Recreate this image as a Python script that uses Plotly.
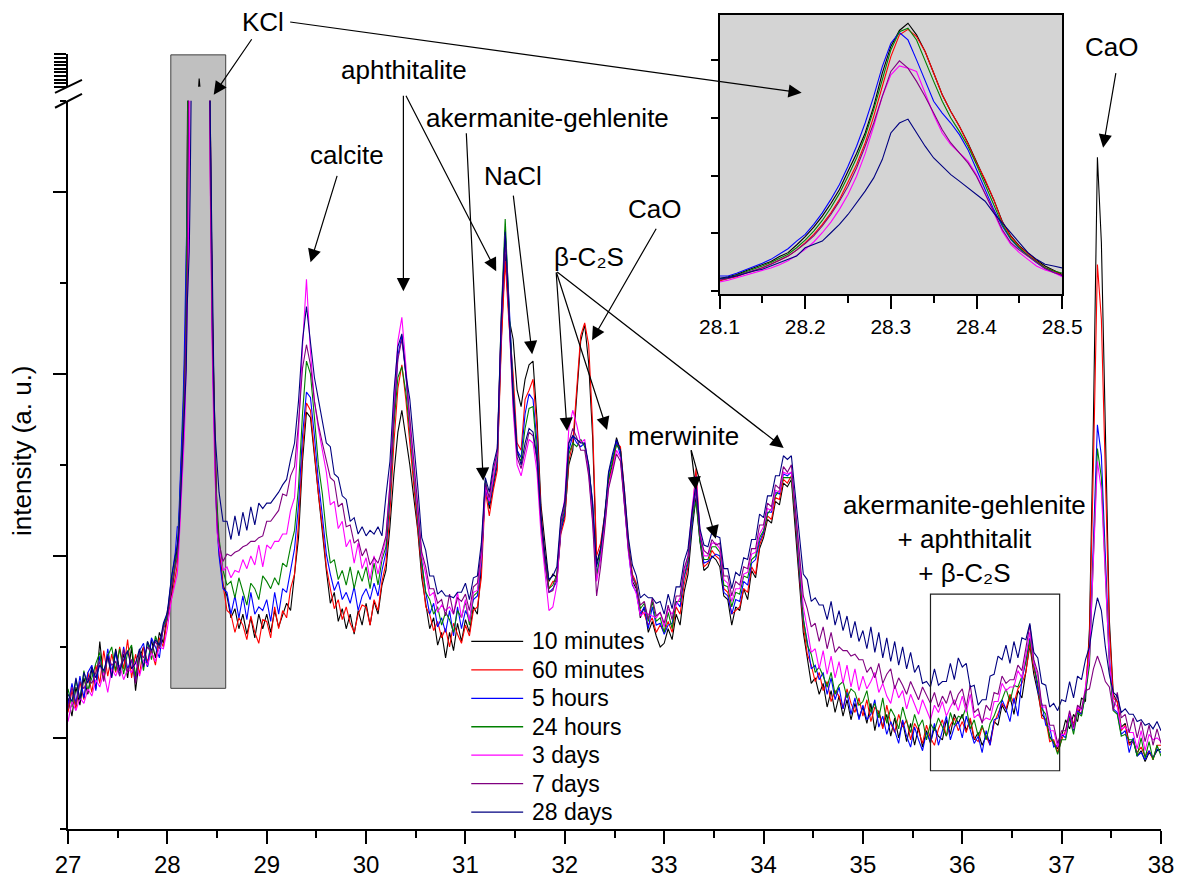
import numpy as np
import plotly.graph_objects as go

# ---------------------------------------------------------------------------
# 2-theta scan grids (degrees): coarse scan, fine window around the KCl reflex
# ---------------------------------------------------------------------------
two_theta_low = np.round(27.00 + 0.04 * np.arange(28), 2)    # 27.00 ... 28.08
two_theta_kcl = np.round(28.10 + 0.01 * np.arange(41), 2)    # 28.10 ... 28.50
two_theta_high = np.round(28.52 + 0.04 * np.arange(238), 2)  # 28.52 ... 38.00

series_names = ["10 minutes", "60 minutes", "5 hours", "24 hours", "3 days", "7 days", "28 days"]
series_colors = ["#000000", "#ff0000", "#0000ff", "#008000", "#ff00ff", "#800080", "#000080"]

# ---------------------------------------------------------------------------
# intensities (a. u.), 27.00 - 28.08
# ---------------------------------------------------------------------------
low_10min = [122, 112, 128, 118, 133, 124, 138, 127, 153, 132, 146, 134, 149, 137, 146, 133, 150, 126, 144, 150, 139, 154, 144, 158, 152, 170, 178, 196]
low_60min = [114, 126, 116, 131, 121, 136, 125, 140, 130, 148, 134, 146, 136, 150, 138, 154, 133, 146, 135, 150, 142, 148, 140, 155, 150, 166, 176, 190]
low_5h = [118, 130, 119, 134, 122, 136, 140, 126, 145, 133, 149, 136, 147, 134, 150, 138, 143, 132, 148, 152, 139, 155, 150, 144, 162, 168, 187, 202]
low_24h = [127, 117, 132, 121, 137, 126, 133, 141, 147, 133, 145, 150, 137, 149, 135, 147, 151, 134, 148, 137, 153, 143, 156, 150, 161, 167, 184, 195]
low_3d = [109, 120, 115, 122, 119, 127, 123, 132, 128, 136, 125, 138, 134, 140, 132, 138, 136, 142, 134, 143, 140, 147, 142, 150, 149, 160, 176, 186]
low_7d = [116, 128, 118, 131, 127, 133, 130, 136, 142, 131, 145, 140, 142, 134, 149, 136, 143, 130, 147, 144, 150, 147, 153, 149, 160, 165, 182, 194]
low_28d = [124, 120, 133, 121, 136, 130, 139, 133, 140, 137, 145, 133, 148, 137, 143, 148, 138, 141, 149, 139, 153, 148, 154, 151, 163, 169, 188, 200]

# ---------------------------------------------------------------------------
# intensities (a. u.), KCl reflex 28.10 - 28.50
# ---------------------------------------------------------------------------
kcl_10min = [205, 213, 222, 238, 251, 264, 279, 300, 317, 350, 386, 427, 475, 529, 590, 669, 745, 834, 949, 1093,
             1208, 1277, 1308, 1258, 1186, 1093, 999, 927, 863, 791, 712, 633, 547, 453, 389, 346, 314, 285, 259, 242, 223]
kcl_60min = [195, 205, 213, 228, 238, 252, 267, 284, 302, 328, 360, 396, 439, 489, 547, 619, 698, 791, 906, 1035,
             1164, 1258, 1282, 1251, 1186, 1093, 999, 927, 863, 788, 705, 633, 547, 449, 386, 343, 310, 281, 252, 238, 219]
kcl_5h = [216, 216, 228, 242, 255, 271, 288, 310, 334, 367, 396, 439, 489, 547, 611, 690, 777, 877, 992, 1121,
          1222, 1268, 1236, 1150, 1057, 971, 920, 877, 827, 762, 676, 590, 504, 432, 374, 334, 302, 274, 248, 231, 216]
kcl_24h = [202, 209, 219, 233, 245, 259, 274, 291, 310, 338, 371, 410, 456, 511, 573, 647, 726, 820, 935, 1064,
           1193, 1272, 1287, 1236, 1143, 1057, 971, 899, 841, 777, 698, 611, 525, 439, 377, 338, 305, 277, 252, 238, 228]
kcl_3d = [190, 198, 208, 219, 228, 238, 251, 265, 282, 305, 331, 363, 403, 449, 504, 568, 647, 745, 863, 992,
          1085, 1124, 1114, 1100, 1006, 913, 834, 784, 748, 712, 654, 575, 489, 410, 353, 317, 288, 259, 242, 231, 213]
kcl_7d = [199, 205, 216, 228, 238, 252, 267, 284, 302, 328, 356, 389, 432, 482, 539, 604, 683, 777, 877, 992,
          1100, 1146, 1114, 1057, 992, 920, 848, 791, 748, 705, 647, 575, 496, 417, 360, 328, 300, 274, 248, 231, 219]
kcl_28d = [205, 209, 216, 228, 238, 245, 259, 274, 285, 302, 338, 353, 367, 403, 439, 482, 532, 583, 640, 719,
           834, 877, 894, 834, 777, 726, 690, 654, 626, 597, 568, 539, 489, 446, 403, 360, 317, 288, 267, 259, 252]

# ---------------------------------------------------------------------------
# intensities (a. u.), 28.52 - 38.00 (one row per degree)
# ---------------------------------------------------------------------------
high_10min = [
    205, 184, 178, 166, 171, 160, 168, 157, 166, 155, 168, 160,
    168, 158, 170, 161, 167, 174, 170, 190, 210, 252, 279, 276, 254, 232, 214, 192, 174, 180, 164, 171, 160, 168, 157, 170, 162,
    174, 162, 175, 168, 184, 192, 216, 245, 268, 280, 266, 250, 232, 214, 188, 174, 160, 166, 151, 158, 144, 158, 148, 163, 153,
    165, 158, 172, 168, 194, 240, 226, 238, 250, 318, 366, 330, 319, 291, 282, 297, 305, 307, 275, 228, 205, 186, 190, 188, 214,
    222, 250, 258, 288, 318, 327, 306, 265, 196, 204, 220, 242, 250, 265, 258, 232, 205, 186, 182, 166, 172, 158, 164, 156, 150,
    152, 160, 154, 168, 162, 180, 190, 214, 232, 208, 192, 194, 200, 198, 194, 178, 176, 162, 172, 170, 182, 176, 192, 188, 204,
    210, 220, 218, 230, 228, 240, 238, 242, 216, 186, 158, 143, 130, 133, 124, 130, 117, 126, 114, 123, 112, 121, 110, 119, 111,
    117, 108, 119, 104, 115, 106, 113, 101, 111, 100, 109, 98, 108, 96, 106, 95, 104, 97, 106, 101, 99, 110, 102, 113, 108,
    113, 104, 110, 99, 103, 96, 101, 98, 109, 107, 118, 114, 123, 113, 126, 122, 137, 151, 135, 125, 113, 110, 101, 97, 94,
    101, 110, 105, 113, 109, 122, 120, 160, 275, 419, 372, 270, 165, 124, 120, 106, 108, 97, 99, 90, 93, 87, 92, 89, 93,
    94]
high_60min = [
    202, 184, 170, 168, 158, 166, 162, 154, 167, 158, 152, 165,
    164, 155, 172, 160, 170, 166, 182, 190, 218, 258, 284, 280, 257, 234, 216, 194, 182, 171, 176, 165, 172, 163, 158, 168, 173,
    172, 162, 176, 170, 186, 196, 224, 262, 292, 305, 286, 262, 238, 216, 192, 172, 168, 159, 164, 155, 160, 150, 163, 157, 152,
    162, 156, 170, 172, 188, 236, 222, 236, 247, 315, 362, 326, 300, 262, 258, 286, 291, 297, 270, 224, 200, 182, 186, 186, 212,
    220, 252, 262, 292, 321, 328, 316, 272, 200, 207, 222, 241, 248, 262, 260, 236, 208, 190, 185, 170, 168, 162, 166, 158, 162,
    158, 164, 158, 172, 168, 184, 194, 222, 248, 212, 194, 196, 203, 200, 198, 182, 180, 168, 170, 172, 182, 180, 194, 190, 206,
    212, 222, 220, 232, 231, 242, 240, 244, 220, 190, 162, 146, 140, 131, 136, 126, 131, 120, 126, 123, 116, 127, 119, 114, 122,
    112, 121, 109, 117, 114, 105, 118, 108, 103, 113, 106, 110, 99, 108, 104, 97, 107, 100, 96, 105, 110, 101, 107, 111, 104,
    109, 103, 111, 100, 98, 106, 101, 96, 108, 113, 119, 116, 124, 119, 127, 130, 136, 152, 138, 128, 111, 110, 98, 99, 92,
    99, 104, 112, 108, 116, 113, 126, 155, 250, 360, 330, 245, 160, 122, 120, 104, 107, 96, 98, 92, 95, 90, 93, 88, 96,
    96]
high_5h = [
    200, 182, 180, 168, 178, 166, 178, 165, 180, 168, 172, 170,
    176, 164, 180, 168, 182, 180, 192, 204, 228, 266, 290, 287, 266, 241, 222, 201, 190, 181, 186, 176, 180, 174, 183, 170, 178,
    182, 176, 185, 178, 192, 202, 232, 275, 310, 321, 300, 270, 243, 220, 196, 180, 168, 174, 161, 166, 158, 170, 156, 172, 160,
    170, 165, 176, 178, 196, 238, 228, 240, 252, 325, 379, 338, 292, 258, 254, 278, 289, 286, 262, 220, 196, 180, 182, 186, 214,
    224, 258, 266, 262, 260, 262, 248, 230, 190, 200, 218, 245, 254, 263, 255, 229, 203, 184, 180, 168, 172, 160, 172, 162, 163,
    157, 162, 163, 175, 172, 188, 196, 218, 238, 210, 196, 197, 199, 201, 200, 180, 178, 168, 176, 175, 186, 184, 196, 198, 208,
    213, 224, 224, 235, 234, 245, 244, 246, 222, 192, 165, 153, 138, 140, 132, 136, 124, 133, 121, 128, 116, 125, 113, 122, 110,
    118, 110, 113, 121, 106, 112, 102, 109, 104, 97, 110, 101, 95, 106, 99, 93, 103, 98, 108, 96, 104, 112, 99, 106, 109,
    100, 112, 104, 97, 101, 92, 104, 96, 110, 111, 121, 116, 109, 122, 112, 132, 142, 155, 142, 126, 119, 107, 106, 95, 96,
    102, 100, 112, 104, 115, 113, 124, 145, 210, 272, 255, 200, 145, 116, 114, 102, 104, 92, 100, 90, 92, 88, 93, 89, 94,
    92]
high_24h = [
    210, 192, 184, 186, 177, 188, 180, 173, 185, 182, 176, 189,
    186, 182, 188, 184, 196, 194, 205, 214, 238, 278, 307, 300, 276, 250, 234, 212, 196, 198, 187, 192, 184, 194, 182, 192, 186,
    194, 182, 196, 184, 198, 205, 234, 272, 298, 304, 290, 268, 245, 222, 197, 180, 176, 168, 172, 162, 169, 165, 158, 170, 166,
    175, 162, 178, 180, 198, 242, 229, 242, 254, 332, 385, 335, 290, 256, 252, 270, 281, 282, 256, 218, 198, 182, 184, 190, 216,
    226, 256, 262, 260, 264, 260, 250, 226, 188, 202, 221, 242, 252, 261, 258, 232, 206, 188, 184, 171, 174, 164, 175, 164, 166,
    158, 169, 160, 175, 175, 189, 198, 220, 230, 208, 198, 198, 205, 205, 202, 184, 183, 172, 180, 179, 189, 188, 198, 200, 210,
    214, 223, 226, 233, 236, 243, 243, 243, 223, 194, 166, 151, 146, 136, 139, 134, 128, 136, 124, 129, 131, 122, 127, 125, 118,
    120, 126, 114, 119, 111, 122, 108, 116, 112, 105, 117, 109, 103, 113, 106, 110, 99, 108, 104, 111, 106, 101, 114, 107, 112,
    111, 117, 105, 110, 101, 107, 99, 108, 112, 118, 121, 127, 120, 129, 128, 134, 142, 154, 140, 130, 116, 113, 100, 98, 91,
    99, 99, 111, 102, 114, 112, 124, 140, 200, 259, 243, 190, 140, 115, 113, 101, 102, 99, 99, 90, 100, 89, 98, 88, 96,
    90]
high_3d = [
    205, 192, 194, 188, 192, 191, 198, 193, 200, 195, 206, 194,
    206, 204, 208, 208, 212, 212, 225, 232, 268, 315, 352, 312, 285, 270, 258, 246, 228, 230, 215, 219, 205, 209, 196, 207, 193,
    199, 187, 200, 190, 200, 210, 240, 285, 318, 331, 305, 272, 248, 226, 200, 190, 178, 180, 169, 173, 170, 172, 168, 180, 166,
    176, 164, 180, 181, 199, 238, 230, 243, 256, 328, 376, 330, 280, 250, 244, 254, 264, 262, 246, 212, 190, 170, 172, 184, 218,
    232, 270, 280, 272, 262, 264, 246, 220, 186, 198, 216, 238, 248, 258, 254, 230, 202, 185, 179, 167, 169, 168, 167, 166, 169,
    161, 171, 168, 173, 177, 191, 200, 226, 244, 214, 200, 200, 207, 207, 204, 187, 185, 175, 182, 182, 190, 191, 201, 202, 212,
    216, 226, 225, 236, 235, 246, 245, 246, 226, 198, 172, 160, 147, 149, 138, 148, 135, 145, 133, 142, 130, 140, 128, 138, 126,
    134, 127, 131, 136, 125, 130, 123, 119, 129, 122, 126, 116, 124, 119, 113, 121, 116, 110, 118, 114, 120, 112, 117, 121, 115,
    123, 114, 124, 111, 113, 109, 111, 110, 120, 120, 130, 126, 128, 128, 137, 133, 146, 158, 141, 134, 117, 117, 104, 104, 95,
    102, 102, 114, 105, 117, 115, 128, 144, 200, 252, 236, 188, 142, 120, 117, 105, 106, 103, 103, 94, 104, 93, 102, 99, 100,
    98]
high_7d = [
    207, 197, 201, 200, 202, 203, 205, 206, 208, 208, 210, 211,
    219, 219, 222, 225, 234, 233, 244, 249, 273, 303, 316, 305, 285, 272, 262, 252, 243, 241, 227, 229, 216, 217, 207, 209, 200,
    204, 195, 199, 196, 203, 211, 239, 278, 308, 319, 300, 278, 252, 228, 202, 194, 182, 182, 174, 176, 167, 179, 168, 177, 175,
    179, 170, 183, 185, 203, 240, 232, 247, 257, 326, 374, 328, 284, 254, 248, 258, 268, 266, 252, 218, 196, 180, 181, 189, 218,
    228, 262, 270, 265, 258, 258, 244, 218, 178, 194, 214, 237, 246, 256, 252, 228, 204, 189, 183, 173, 175, 165, 177, 167, 169,
    163, 173, 165, 178, 178, 193, 200, 222, 236, 211, 203, 201, 209, 206, 207, 189, 189, 178, 186, 184, 194, 193, 204, 204, 217,
    217, 229, 227, 239, 237, 249, 246, 250, 227, 202, 178, 171, 161, 163, 153, 161, 149, 158, 147, 150, 148, 148, 145, 146, 143,
    143, 136, 139, 133, 141, 130, 135, 138, 127, 133, 129, 124, 131, 126, 121, 128, 123, 119, 125, 117, 123, 119, 126, 118, 124,
    127, 117, 129, 114, 116, 108, 118, 115, 125, 124, 134, 130, 132, 132, 140, 137, 149, 162, 143, 136, 118, 118, 107, 107, 97,
    104, 104, 115, 106, 118, 116, 126, 127, 138, 145, 139, 131, 128, 115, 125, 111, 113, 103, 111, 100, 109, 98, 107, 96, 105,
    97]
high_28d = [
    235, 219, 219, 209, 222, 211, 224, 214, 227, 217, 229, 226,
    229, 229, 232, 235, 239, 242, 253, 262, 285, 318, 337, 318, 298, 286, 273, 262, 260, 245, 243, 233, 231, 219, 221, 212, 216,
    211, 214, 212, 216, 211, 233, 252, 290, 315, 322, 300, 286, 264, 238, 210, 203, 189, 189, 179, 181, 178, 178, 177, 180, 180,
    185, 176, 188, 189, 207, 243, 235, 250, 259, 330, 378, 332, 288, 258, 250, 262, 270, 268, 254, 222, 201, 187, 189, 194, 221,
    230, 262, 266, 264, 262, 262, 250, 228, 194, 204, 222, 246, 256, 264, 258, 236, 210, 195, 189, 177, 179, 177, 177, 174, 175,
    168, 179, 171, 183, 183, 197, 204, 224, 240, 215, 206, 205, 213, 211, 210, 193, 193, 182, 191, 189, 199, 198, 209, 209, 223,
    221, 233, 233, 244, 244, 255, 253, 255, 233, 210, 190, 187, 175, 177, 173, 173, 165, 175, 162, 170, 159, 167, 155, 164, 153,
    159, 149, 161, 147, 158, 144, 155, 142, 153, 140, 150, 138, 147, 136, 140, 130, 131, 128, 138, 129, 131, 131, 141, 132, 144,
    139, 141, 128, 129, 118, 121, 121, 134, 135, 145, 143, 151, 141, 153, 144, 155, 154, 163, 147, 144, 130, 129, 117, 119, 115,
    121, 120, 131, 122, 134, 132, 143, 150, 165, 177, 170, 150, 135, 125, 123, 114, 116, 113, 113, 109, 110, 107, 108, 105, 109,
    104]

series_low = [low_10min, low_60min, low_5h, low_24h, low_3d, low_7d, low_28d]
series_kcl = [kcl_10min, kcl_60min, kcl_5h, kcl_24h, kcl_3d, kcl_7d, kcl_28d]
series_high = [high_10min, high_60min, high_5h, high_24h, high_3d, high_7d, high_28d]

for lo, kc, hi in zip(series_low, series_kcl, series_high):
    assert len(lo) == len(two_theta_low), len(lo)
    assert len(kc) == len(two_theta_kcl), len(kc)
    assert len(hi) == len(two_theta_high), len(hi)

two_theta = np.concatenate([two_theta_low, two_theta_kcl, two_theta_high])

# ---------------------------------------------------------------------------
# page geometry
# ---------------------------------------------------------------------------
W, H = 1181, 878
ML, MR, MT, MB = 68, 18, 0, 47
PW, PH = W - ML - MR, H - MT - MB
FONT = "Arial, 'Liberation Sans', sans-serif"


def fx(px):
    return (px - ML) / PW


def fy(py):
    return (H - MB - py) / PH


fig = go.Figure()

for name, color, lo, kc, hi in zip(series_names, series_colors, series_low, series_kcl, series_high):
    counts = np.concatenate([lo, kc, hi])
    # main panel (below the axis break)
    fig.add_trace(go.Scatter(x=two_theta, y=counts, mode="lines", name=name,
                             line=dict(color=color, width=1.1), xaxis="x", yaxis="y"))
    # compressed segment above the axis break
    fig.add_trace(go.Scatter(x=two_theta, y=counts, mode="lines", name=name, hoverinfo="skip",
                             line=dict(color=color, width=1.1), xaxis="x", yaxis="y2"))
    # inset: KCl reflex
    fig.add_trace(go.Scatter(x=two_theta, y=counts, mode="lines", name=name,
                             line=dict(color=color, width=1.1), xaxis="x2", yaxis="y3"))

axis_common = dict(showgrid=False, zeroline=False, linecolor="black", tickcolor="black")

fig.update_layout(
    width=W, height=H,
    margin=dict(l=ML, r=MR, t=MT, b=MB),
    paper_bgcolor="white", plot_bgcolor="rgba(0,0,0,0)",
    font=dict(family=FONT, color="black"),
    showlegend=False,
    xaxis=dict(domain=[0, 1], range=[27, 38], anchor="y", tickmode="linear", tick0=27, dtick=1,
               ticks="outside", ticklen=13, tickwidth=2, showline=True, linewidth=2,
               tickfont=dict(size=24, family=FONT, color="black"),
               minor=dict(tick0=27, dtick=0.5, ticks="outside", ticklen=7, tickwidth=2, tickcolor="black"),
               **axis_common),
    yaxis=dict(domain=[0, fy(101)], range=[50, 450], anchor="x", tickmode="linear", tick0=0, dtick=100,
               ticks="outside", ticklen=13, tickwidth=2, showticklabels=False, showline=True, linewidth=2,
               minor=dict(tick0=0, dtick=50, ticks="outside", ticklen=6, tickwidth=2, tickcolor="black"),
               **axis_common),
    yaxis2=dict(domain=[fy(87), fy(54)], range=[1292, 1356], anchor="x", tickmode="linear", tick0=1292, dtick=7,
                ticks="outside", ticklen=12, tickwidth=1.5, showticklabels=False, showline=True, linewidth=2,
                **axis_common),
    xaxis2=dict(domain=[fx(720.7), fx(1064)], range=[28.1, 28.5], anchor="y3", tickmode="linear", tick0=28.1,
                dtick=0.1, tickformat=".1f", ticks="outside", ticklen=13, tickwidth=1.5, showline=True,
                linewidth=1.5, mirror=True, tickfont=dict(size=21, family=FONT, color="black"),
                minor=dict(tick0=28.1, dtick=0.05, ticks="outside", ticklen=7, tickwidth=1.5, tickcolor="black"),
                **axis_common),
    yaxis3=dict(domain=[fy(295), fy(15)], range=[137, 1344], anchor="x2", tickmode="linear", tick0=150, dtick=250,
                ticks="outside", ticklen=7, tickwidth=1.5, showticklabels=False, showline=True, linewidth=1.5,
                mirror=True, **axis_common),
)

# background panels, reference window and axis-break marks
shapes = [
    dict(type="rect", xref="paper", yref="paper", x0=fx(171), x1=fx(226), y0=fy(690), y1=fy(55),
         fillcolor="#c0c0c0", line=dict(color="#404040", width=1), layer="below"),
    dict(type="rect", xref="x2 domain", yref="y3 domain", x0=0, x1=1, y0=0, y1=1,
         fillcolor="#d4d4d4", line=dict(width=0), layer="below"),
    dict(type="rect", xref="x", yref="y", x0=35.68, x1=36.98, y0=82, y1=179,
         fillcolor="rgba(0,0,0,0)", line=dict(color="#202020", width=1.2), layer="above"),
    dict(type="line", xref="paper", yref="paper", x0=fx(55), y0=fy(93), x1=fx(82), y1=fy(80),
         line=dict(color="black", width=2)),
    dict(type="line", xref="paper", yref="paper", x0=fx(55), y0=fy(108), x1=fx(82), y1=fy(94),
         line=dict(color="black", width=2)),
]

LABEL_SIZE = 26
C2S = "β-C₂S"


def label(cx, cy, text, size=LABEL_SIZE):
    return dict(x=fx(cx), y=fy(cy), xref="paper", yref="paper", text=text, showarrow=False,
                xanchor="center", yanchor="middle", align="center",
                font=dict(size=size, family=FONT, color="black"))


def arrow(hx, hy, tx, ty):
    return dict(x=fx(hx), y=fy(hy), xref="paper", yref="paper", ax=tx - hx, ay=ty - hy,
                axref="pixel", ayref="pixel", text="", showarrow=True, arrowhead=2,
                arrowsize=2.2, arrowwidth=1.2, arrowcolor="black", standoff=0, startstandoff=0)


annotations = [
    label(263, 22, "KCl"),
    arrow(214, 95, 253, 38),
    arrow(803, 93, 290, 22),
    label(1113, 47, "CaO"),
    arrow(1105, 148, 1118, 72),
    label(348, 155, "calcite"),
    arrow(311, 263, 338, 175),
    label(405, 70, "aphthitalite"),
    arrow(404, 292, 404, 95),
    arrow(497, 272, 406, 95),
    label(548, 118, "akermanite-gehlenite"),
    arrow(484, 482, 467, 133),
    label(514, 176, "NaCl"),
    arrow(533, 355, 514, 195),
    label(656, 210, "CaO"),
    arrow(593, 341, 658, 228),
    label(590, 258, C2S),
    arrow(568, 432, 557, 272),
    arrow(608, 431, 557, 272),
    arrow(785, 449, 557, 272),
    label(685, 437, "merwinite"),
    arrow(697, 491, 692, 450),
    arrow(717, 540, 692, 450),
    label(966, 540, "akermanite-gehlenite<br>+ aphthitalit<br>+ " + C2S),
    dict(x=fx(22), y=fy(452), xref="paper", yref="paper", text="intensity (a. u.)", textangle=-90,
         showarrow=False, xanchor="center", yanchor="middle",
         font=dict(size=26, family=FONT, color="black")),
]

# series key: short line sample and name per row
KEY_LINE_X0, KEY_LINE_X1, KEY_TEXT_X = 472, 524, 531
KEY_ROW0, KEY_ROW_STEP = 643, 28.5
for i, (name, color) in enumerate(zip(series_names, series_colors)):
    row_y = KEY_ROW0 + i * KEY_ROW_STEP
    shapes.append(dict(type="line", xref="paper", yref="paper",
                       x0=fx(KEY_LINE_X0), x1=fx(KEY_LINE_X1), y0=fy(row_y), y1=fy(row_y),
                       line=dict(color=color, width=1.3)))
    annotations.append(dict(x=fx(KEY_TEXT_X), y=fy(row_y), xref="paper", yref="paper", text=name,
                            showarrow=False, xanchor="left", yanchor="middle",
                            font=dict(size=23, family=FONT, color="black")))

fig.update_layout(shapes=shapes, annotations=annotations)

fig.write_html("out.html")
